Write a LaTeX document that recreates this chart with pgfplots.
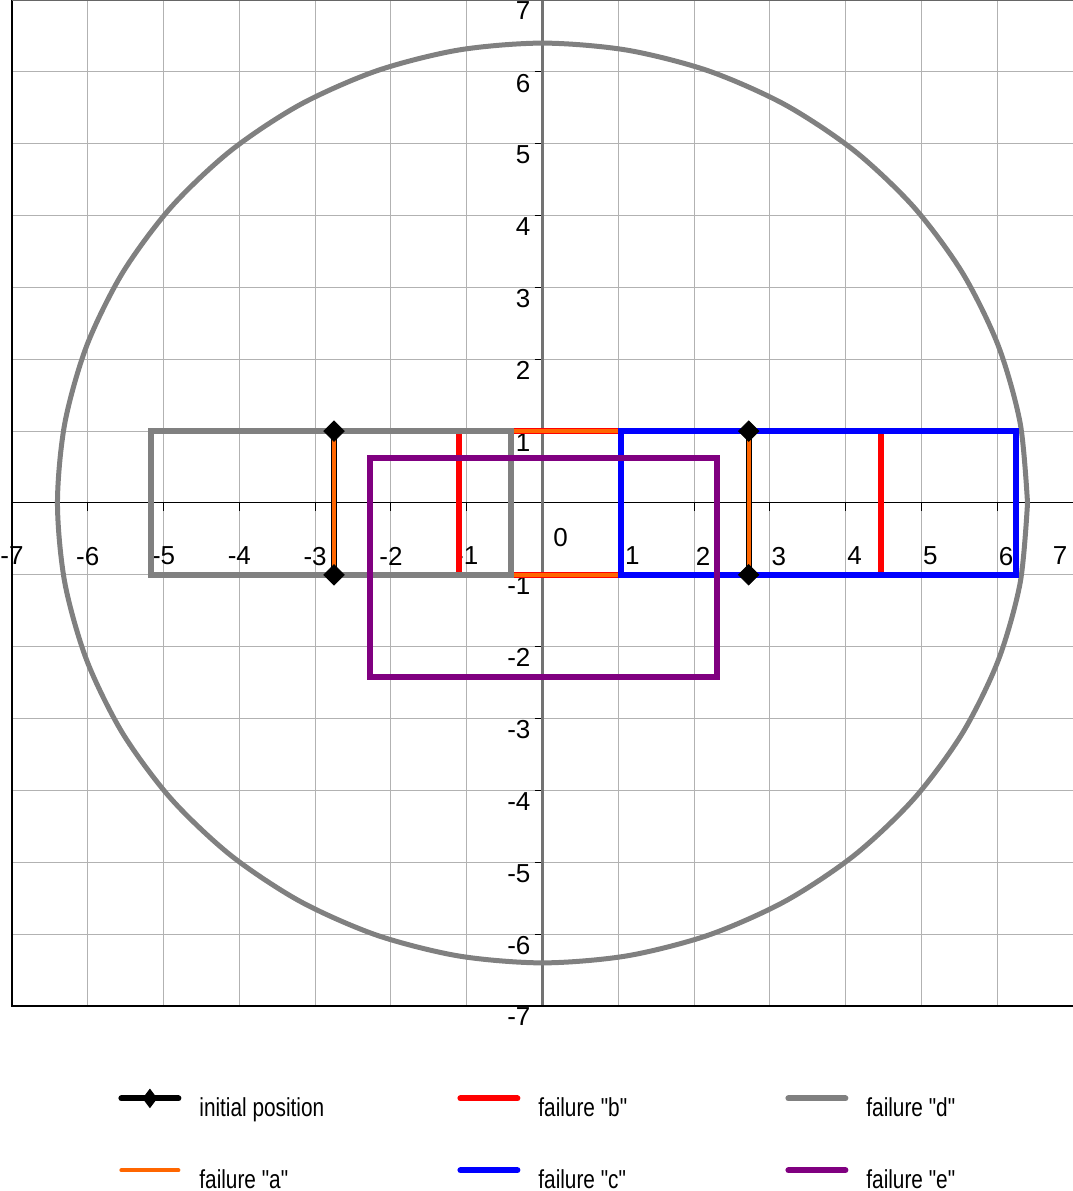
\documentclass[border=0pt]{standalone}
\usepackage{fontspec}
\setmainfont{Liberation Sans}
\newfontfamily\legfont[FakeStretch=0.8]{Liberation Sans}
\usepackage{pgfplots}
\pgfplotsset{compat=1.18}
\usetikzlibrary{calc}
\definecolor{cred}{RGB}{255,0,0}
\definecolor{corange}{RGB}{255,102,0}
\definecolor{cblue}{RGB}{0,0,255}
\definecolor{cgray}{RGB}{128,128,128}
\definecolor{cpurple}{RGB}{128,0,128}
\pgfplotsset{
  linelegend/.style={legend image code/.code={\draw[##1, mark=none, line cap=round] (0pt,5pt) -- (28.5pt,5pt);}},
  initlegend/.style={legend image code/.code={\draw[##1, mark=none, line cap=round] (0pt,5pt) -- (28.5pt,5pt); \draw[##1] plot coordinates {(14.25pt,5pt)};}},
}
\newcommand{\pl}[1]{\hspace*{9pt}#1}
\begin{document}
\begin{tikzpicture}
\begin{axis}[
  scale only axis, width=530.5pt, height=503pt,
  xmin=-7, xmax=7, ymin=-7, ymax=7,
  axis lines=middle,
  axis line style={-},
  x axis line style={-, black, line width=0.5pt},
  y axis line style={-, black!55, line width=1.4pt},
  xtick={-7,-6,-5,-4,-3,-2,-1,1,2,3,4,5,6,7},
  xticklabels={-7,-6,-5,-4,-3,-2,-1,{\hspace*{14pt}1},\pl{2},\pl{3},\pl{4},\pl{5},\pl{6},{7\hspace*{13pt}}},
  ytick={-7,-6,-5,-4,-3,-2,-1,1,2,3,4,5,6,7},
  yticklabels={-7,-6,-5,-4,-3,-2,-1,1,2,3,4,5,6,7},
  tick align=outside, major tick length=4pt,
  tick style={black, line width=0.5pt},
  grid=major, major grid style={black!30, line width=0.5pt},
  tick label style={font=\fontsize{13}{15}\selectfont},
  xticklabel style={anchor=north, yshift=-14.5pt},
  yticklabel style={anchor=north east, yshift=2.5pt, xshift=1.5pt},
  clip=false,
  linelegend,
  legend style={draw=none, fill=none, legend columns=3, at={(rel axis cs:0,0)}, anchor=north west,
    xshift=53pt, yshift=-41.5pt, inner sep=0pt, row sep=21pt,
    font=\legfont\fontsize{13}{15}\selectfont,
    /tikz/every odd column/.append style={column sep=7pt}, cells={anchor=west}},
]
% legend entries (row-major order)
\addlegendimage{initlegend, black, line width=3pt, mark=diamond*, mark size=4.5pt, mark options={solid, line width=0.5pt}}
\addlegendentry{\makebox[127pt][l]{initial position}}
\addlegendimage{cred, line width=3pt}
\addlegendentry{\makebox[121.5pt][l]{failure "b"}}
\addlegendimage{cgray, line width=3pt}
\addlegendentry{failure "d"}
\addlegendimage{corange, line width=2pt}
\addlegendentry{\makebox[127pt][l]{failure "a"}}
\addlegendimage{cblue, line width=3pt}
\addlegendentry{\makebox[121.5pt][l]{failure "c"}}
\addlegendimage{cpurple, line width=3pt}
\addlegendentry{failure "e"}

% circle
\addplot[forget plot, cgray, line width=2.5pt, smooth] coordinates {
(6.4,0) (6.303,1.111) (6.014,2.189) (5.543,3.2) (4.903,4.114) (4.114,4.903) (3.2,5.543) (2.189,6.014) (1.111,6.303) (0,6.4)
(-1.111,6.303) (-2.189,6.014) (-3.2,5.543) (-4.114,4.903) (-4.903,4.114) (-5.543,3.2) (-6.014,2.189) (-6.303,1.111) (-6.4,0)
(-6.303,-1.111) (-6.014,-2.189) (-5.543,-3.2) (-4.903,-4.114) (-4.114,-4.903) (-3.2,-5.543) (-2.189,-6.014) (-1.111,-6.303) (0,-6.4)
(1.111,-6.303) (2.189,-6.014) (3.2,-5.543) (4.114,-4.903) (4.903,-4.114) (5.543,-3.2) (6.014,-2.189) (6.303,-1.111) (6.4,0)};
% failure b
\addplot[forget plot, cred, line width=3pt, line join=miter] coordinates {(-1.1,-1) (-1.1,1) (4.47,1) (4.47,-1) (-1.1,-1) (-1.1,1)};
% initial position lines
\addplot[forget plot, black, line width=3pt] coordinates {(-2.75,1) (-2.75,-1)};
\addplot[forget plot, black, line width=3pt] coordinates {(2.72,1) (2.72,-1)};
% failure a
\addplot[forget plot, corange, line width=2pt, line join=miter] coordinates {(-2.75,-1) (-2.75,1) (2.72,1) (2.72,-1) (-2.75,-1) (-2.75,1)};
% failure c
\addplot[forget plot, cblue, line width=3pt, line join=miter] coordinates {(1.04,-1) (1.04,1) (6.25,1) (6.25,-1) (1.04,-1) (1.04,1)};
% failure d
\addplot[forget plot, cgray, line width=3pt, line join=miter] coordinates {(-5.17,-1) (-5.17,1) (-0.41,1) (-0.41,-1) (-5.17,-1) (-5.17,1)};
% failure e
\addplot[forget plot, cpurple, line width=3pt, line join=miter] coordinates {(-2.27,-2.42) (-2.27,0.63) (2.3,0.63) (2.3,-2.42) (-2.27,-2.42) (-2.27,0.63)};
% initial position markers
\addplot[forget plot, only marks, mark=square*, mark size=3.6pt, mark options={rotate=45, black, solid}] coordinates {(-2.75,1) (-2.75,-1) (2.72,1) (2.72,-1)};

\node[font=\fontsize{13}{15}\selectfont] at (axis cs:0.24,-0.48) {0};
\draw[black, line width=1pt] (rel axis cs:0,1) -- (rel axis cs:0,0) -- (rel axis cs:1,0);
\draw[black!60, line width=1pt] (rel axis cs:0,1) -- (rel axis cs:1,1);
\coordinate (SW) at (rel axis cs:0,0);
\coordinate (NE) at (rel axis cs:1,1);
\end{axis}
\pgfresetboundingbox
\useasboundingbox ($(SW)+(-6pt,-92.5pt)$) rectangle (NE);
\end{tikzpicture}
\end{document}
